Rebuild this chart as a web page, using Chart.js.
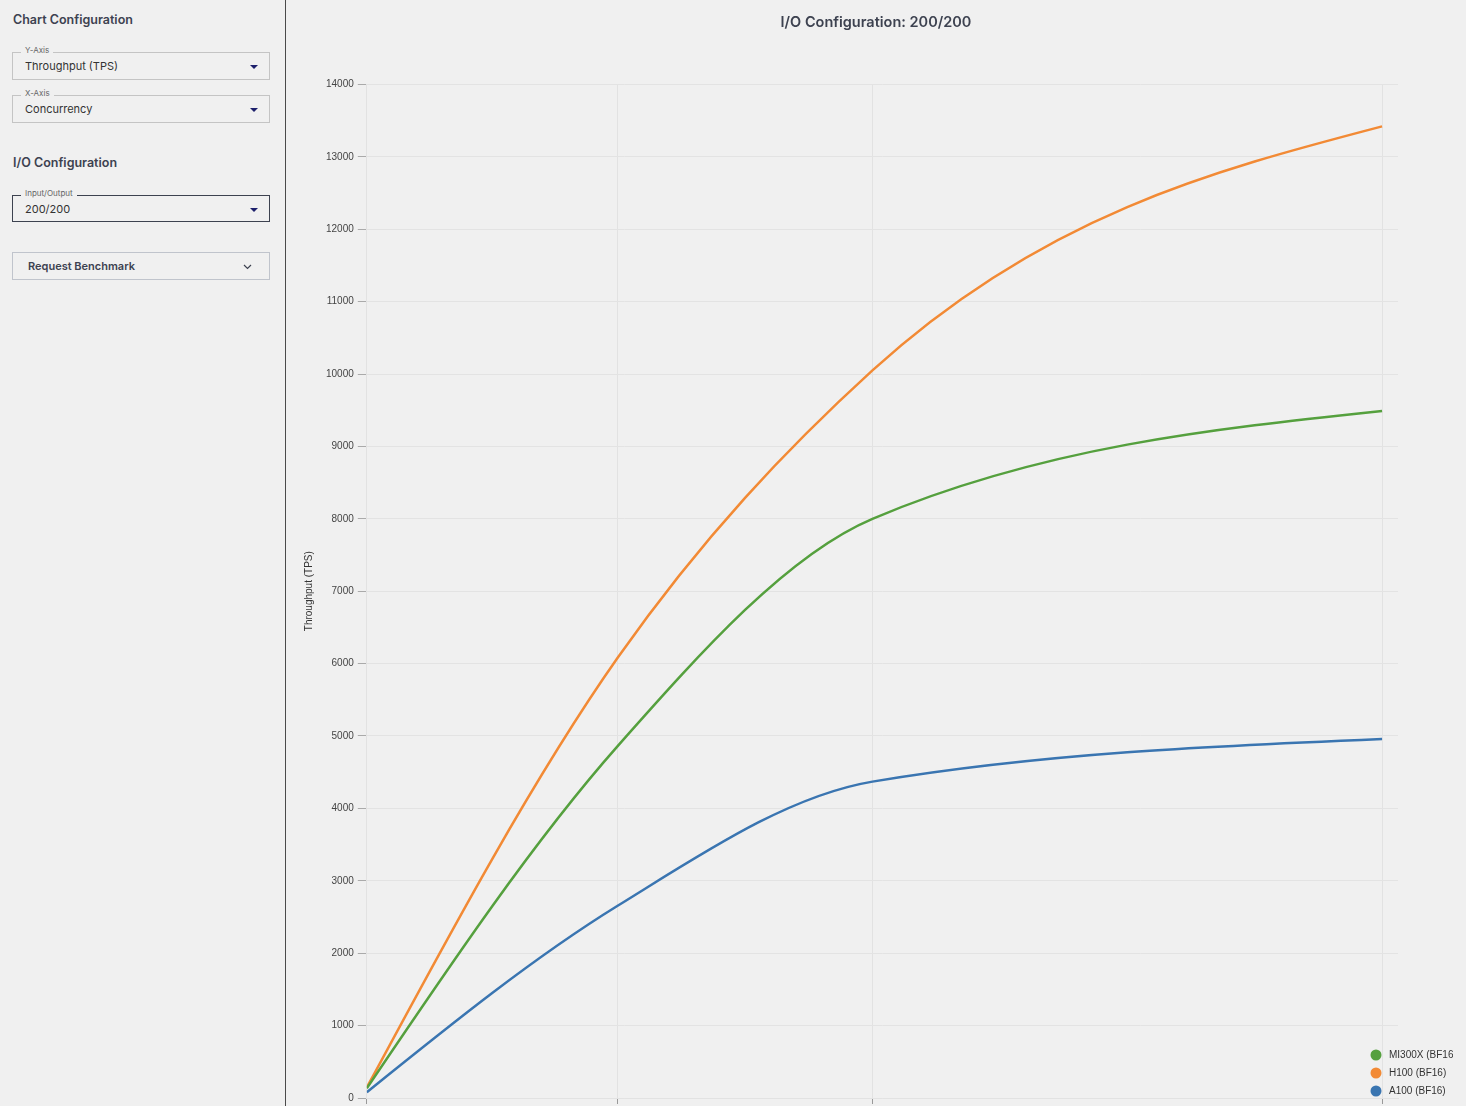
<!DOCTYPE html>
<html>
<head>
<meta charset="utf-8">
<script src="https://cdn.jsdelivr.net/npm/chart.js@4.4.1/dist/chart.umd.min.js"></script>
<style>
  html, body { margin: 0; padding: 0; width: 1466px; height: 1106px; overflow: hidden; background: #f0f0f0; font-family: Inter, "Noto Sans", sans-serif; }
  #side { position: absolute; left: 0; top: 0; width: 285px; height: 1106px; border-right: 1px solid #4a4a4a; }
  .h { position: absolute; left: 13px; margin: 0; font-size: 12.5px; font-weight: 600; color: #3d4250; line-height: 14px; }
  .sel { position: absolute; left: 12px; width: 258px; height: 28px; box-sizing: border-box; border: 1px solid #c4c4c4; }
  .sel.dark { border-color: #3d4250; }
  .sel label { position: absolute; left: 8px; top: -8px; font-size: 8px; color: #666; padding: 0 4px; line-height: 10px; background: #f0f0f0; }
  .sel span { position: absolute; left: 12px; top: 6px; font-size: 11px; color: #333; line-height: 14px; }
  .sel i { position: absolute; right: 11px; top: 12px; width: 0; height: 0; border-left: 4.5px solid transparent; border-right: 4.5px solid transparent; border-top: 4.5px solid #1c1f6b; }
  .btn { position: absolute; left: 12px; top: 252px; width: 258px; height: 28px; box-sizing: border-box; border: 1px solid #c0c4cc; }
  .btn span { position: absolute; left: 15px; top: 6px; font-size: 11px; font-weight: 600; color: #3d4250; line-height: 14px; }
  .btn svg { position: absolute; right: 17px; top: 11px; }
  #wrap { position: absolute; left: 286px; top: 0; width: 1180px; height: 1142px; }
</style>
</head>
<body>
<div id="side">
  <div class="h" style="top:13px">Chart Configuration</div>
  <div class="sel" style="top:52px"><label>Y-Axis</label><span>Throughput (TPS)</span><i></i></div>
  <div class="sel" style="top:95px"><label>X-Axis</label><span>Concurrency</span><i></i></div>
  <div class="h" style="top:156px">I/O Configuration</div>
  <div class="sel dark" style="top:195px;height:27px"><label>Input/Output</label><span>200/200</span><i></i></div>
  <div class="btn"><span>Request Benchmark</span><svg width="9" height="6" viewBox="0 0 9 6"><path d="M1 1 L4.5 4.5 L8 1" fill="none" stroke="#3d4250" stroke-width="1.2"/></svg></div>
</div>
<div id="wrap"><canvas id="c"></canvas></div>
<script>
const concurrency = [1, 64, 128, 256];
const seriesNames = ['MI300X (BF16)', 'H100 (BF16)', 'A100 (BF16)'];
const mi300xTps = [135, 4860, 8000, 9490];
const h100Tps = [145, 6080, 10050, 13420];
const a100Tps = [80, 2655, 4370, 4960];
const seriesColors = ['#55a03e', '#f28a35', '#3a75b1'];
const yTicks = [0, 1000, 2000, 3000, 4000, 5000, 6000, 7000, 8000, 9000, 10000, 11000, 12000, 13000, 14000];

const seriesValues = [mi300xTps, h100Tps, a100Tps];
const datasets = seriesNames.map((name, i) => ({
  label: name,
  data: concurrency.map((x, j) => ({ x: x, y: seriesValues[i][j] })),
  borderColor: seriesColors[i],
  backgroundColor: seriesColors[i],
  borderWidth: 2.5,
  pointRadius: 0,
  cubicInterpolationMode: 'monotone',
  fill: false
}));

// monotone-X curve (tangents as in d3's curveMonotoneX), applied to the points laid out by the scales
const monotoneX = {
  id: 'monotoneX',
  beforeDatasetDraw(chart, args) {
    const line = args.meta.dataset;
    line.updateControlPoints(chart.chartArea, 'x');
    const pts = line.points;
    const n = pts.length;
    if (n < 3) return;
    const sg = (v) => (v < 0 ? -1 : 1);
    const s = [];
    for (let i = 0; i < n - 1; i++) s.push((pts[i + 1].y - pts[i].y) / (pts[i + 1].x - pts[i].x));
    const t = new Array(n);
    for (let i = 1; i < n - 1; i++) {
      const h0 = pts[i].x - pts[i - 1].x, h1 = pts[i + 1].x - pts[i].x;
      const p = (s[i - 1] * h1 + s[i] * h0) / (h0 + h1);
      t[i] = (sg(s[i - 1]) + sg(s[i])) * Math.min(Math.abs(s[i - 1]), Math.abs(s[i]), 0.5 * Math.abs(p)) || 0;
    }
    t[0] = (3 * s[0] - t[1]) / 2;
    t[n - 1] = (3 * s[n - 2] - t[n - 2]) / 2;
    for (let i = 0; i < n; i++) {
      if (i > 0) {
        const dx = (pts[i].x - pts[i - 1].x) / 3;
        pts[i].cp1x = pts[i].x - dx; pts[i].cp1y = pts[i].y - dx * t[i];
      }
      if (i < n - 1) {
        const dx = (pts[i + 1].x - pts[i].x) / 3;
        pts[i].cp2x = pts[i].x + dx; pts[i].cp2y = pts[i].y + dx * t[i];
      }
    }
  }
};

// reserve the legend column at the right of the plot (title still spans the full width)
const rightSpace = {
  id: 'rightSpace',
  beforeInit(chart) {
    const box = {
      position: 'right', weight: 0, fullSize: false, options: {},
      width: 68, height: 0, left: 0, top: 0, right: 0, bottom: 0,
      update(maxWidth, maxHeight) { this.width = 68; this.height = maxHeight; },
      isHorizontal() { return false; },
      draw() {}
    };
    if (Chart.layouts && Chart.layouts.addBox) Chart.layouts.addBox(chart, box);
  }
};

const sideLegend = {
  id: 'sideLegend',
  afterDraw(chart) {
    const { ctx, chartArea } = chart;
    const n = chart.data.datasets.length;
    ctx.save();
    ctx.beginPath();
    ctx.rect(chartArea.right - 40, chartArea.bottom - 70, 95, 75);
    ctx.clip();
    ctx.font = '10px "Liberation Sans", Arial, sans-serif';
    ctx.textBaseline = 'middle';
    ctx.textAlign = 'left';
    chart.data.datasets.forEach((ds, i) => {
      const y = chartArea.bottom - 7 - (n - 1 - i) * 18;
      const x = chartArea.right - 22;
      ctx.fillStyle = ds.borderColor;
      ctx.beginPath();
      ctx.arc(x, y, 5.5, 0, Math.PI * 2);
      ctx.fill();
      ctx.fillStyle = '#333';
      ctx.fillText(ds.label, x + 13, y + 0.5);
    });
    ctx.restore();
  }
};

Chart.defaults.font.family = '"Liberation Sans", Arial, sans-serif';
Chart.defaults.font.size = 10;
Chart.defaults.color = '#444';

new Chart(document.getElementById('c'), {
  type: 'line',
  data: { datasets: datasets },
  plugins: [rightSpace, monotoneX, sideLegend],
  options: {
    responsive: true,
    maintainAspectRatio: false,
    animation: false,
    layout: { padding: 0 },
    plugins: {
      legend: { display: false },
      tooltip: { enabled: false },
      title: {
        display: true,
        text: 'I/O Configuration: 200/200',
        color: '#3d4250',
        font: { family: 'Inter, "Noto Sans", sans-serif', size: 14.5, weight: '600' },
        padding: { top: 14, bottom: 53 }
      }
    },
    scales: {
      x: {
        type: 'linear',
        min: 1,
        max: 260,
        afterBuildTicks: (scale) => { scale.ticks = concurrency.map(v => ({ value: v })); },
        grid: { color: '#e2e2e2', tickColor: '#999', tickLength: 6 },
        border: { color: '#e2e2e2' },
        ticks: { color: '#444', padding: 3, callback: (v) => String(v) },
        title: { display: true, text: 'Concurrency', color: '#333' }
      },
      y: {
        type: 'linear',
        min: 0,
        max: 14000,
        afterBuildTicks: (scale) => { scale.ticks = yTicks.map(v => ({ value: v })); },
        grid: { color: '#e3e3e3', tickColor: '#aaa', tickLength: 9 },
        border: { color: '#e2e2e2' },
        ticks: { color: '#444', padding: 4, callback: (v) => String(v) },
        title: { display: true, text: 'Throughput (TPS)', color: '#333', padding: { top: 17, bottom: 7 } }
      }
    }
  }
});
</script>
</body>
</html>
